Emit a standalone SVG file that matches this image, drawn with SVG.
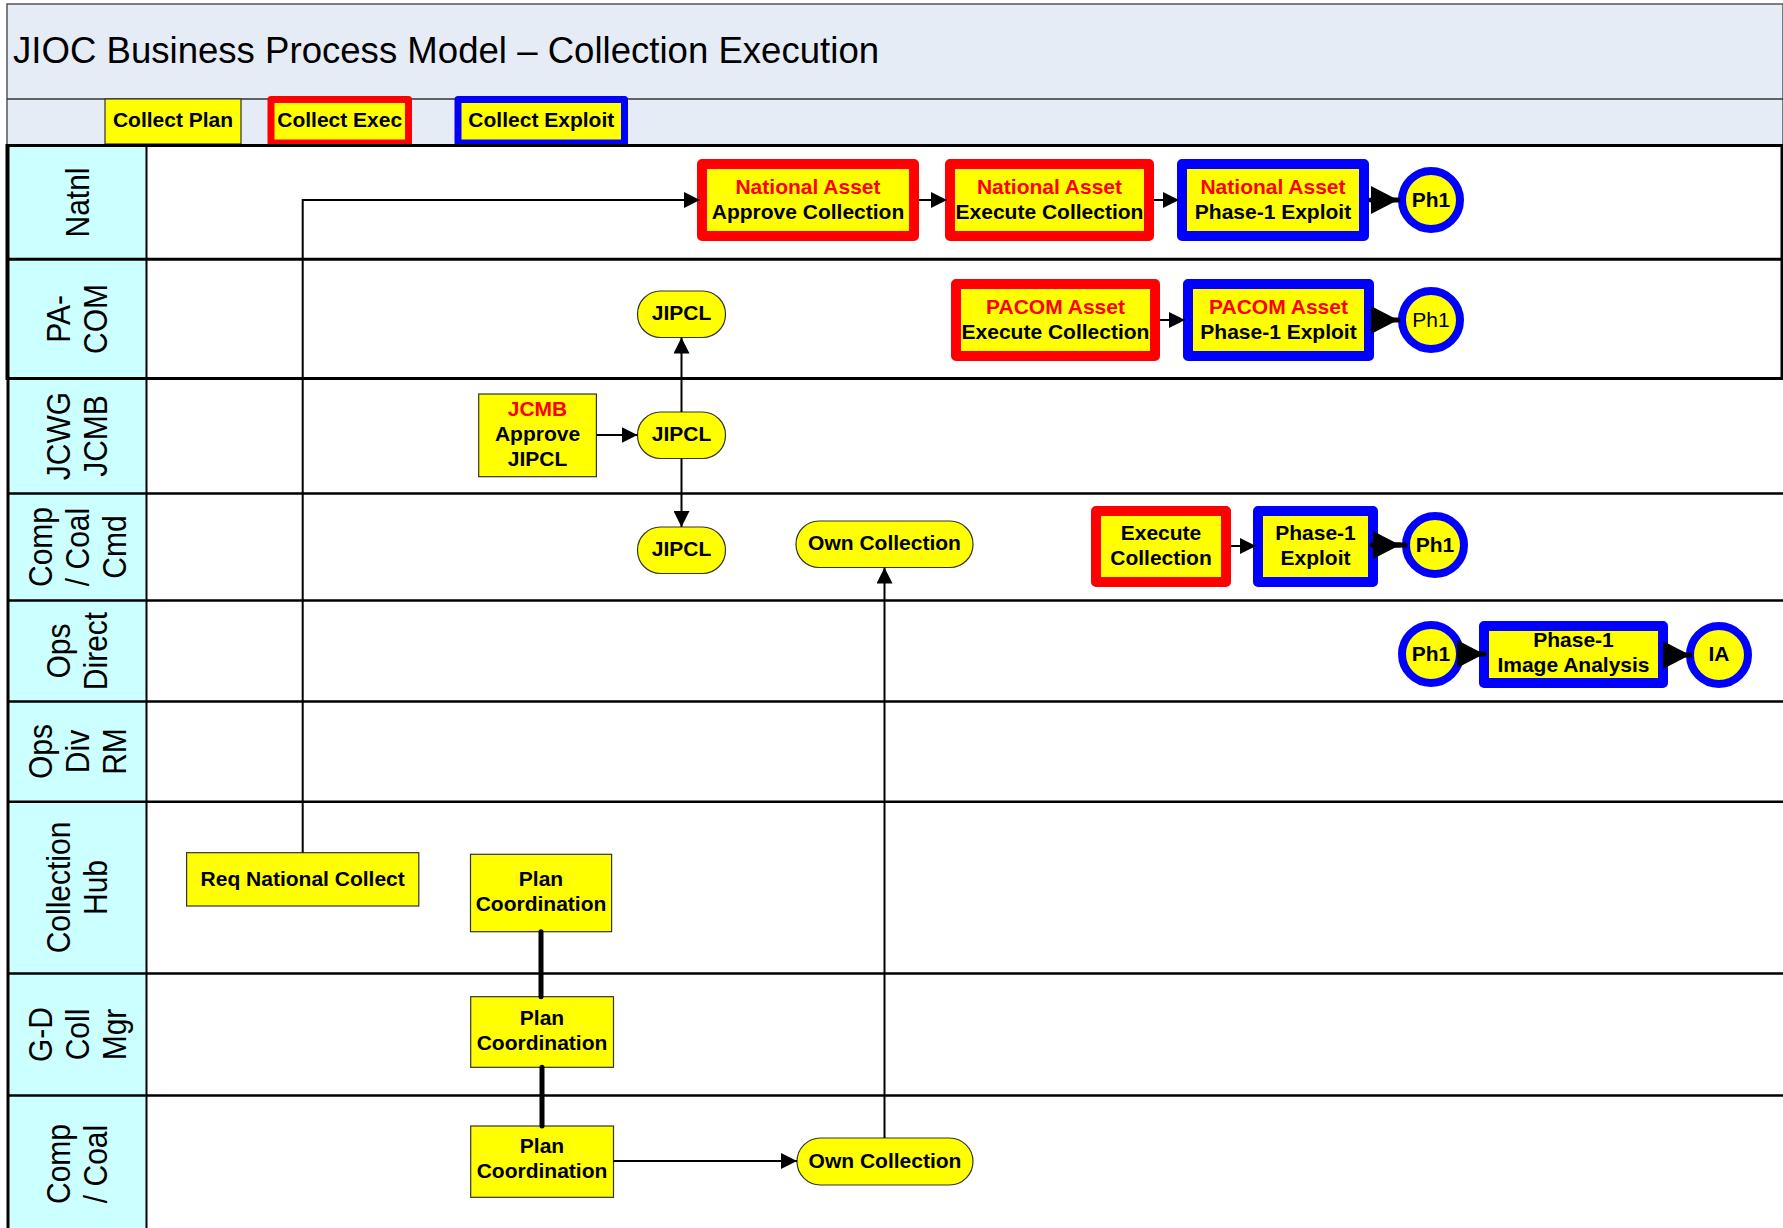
<svg xmlns="http://www.w3.org/2000/svg" width="1783" height="1228" viewBox="0 0 1783 1228">
  <style>
    .hdr { fill: #E6ECF6; }
    .lanecol { fill: #CCFFFF; }
    .title { font-family: "Liberation Sans", Arial, sans-serif; font-size: 36.6px; fill: #000; }
    .lane { font-family: "Liberation Sans", Arial, sans-serif; font-size: 30px; fill: #000; text-anchor: middle; }
    .t { font-family: "Liberation Sans", Arial, sans-serif; font-size: 21px; font-weight: bold; fill: #000; text-anchor: middle; }
    .t .r { fill: #FF0000; }
    .t.reg { font-weight: normal; }
    .box { fill: #FFFF00; stroke: #333; stroke-width: 1.2; }
    .exec { fill: #FFFF00; stroke: #FF0000; stroke-width: 10; stroke-linejoin: round; }
    .expl { fill: #FFFF00; stroke: #0000FF; stroke-width: 10; stroke-linejoin: round; }
    .ring { fill: #FFFF00; stroke: #0000FF; stroke-width: 8; }
    .lg-exec { fill: #FFFF00; stroke: #FF0000; stroke-width: 7; stroke-linejoin: round; }
    .lg-expl { fill: #FFFF00; stroke: #0000FF; stroke-width: 7; stroke-linejoin: round; }
    .heavy { stroke: #000; stroke-width: 3; }
    .light { stroke: #000; stroke-width: 2.5; }
    .flow { fill: none; stroke: #000; stroke-width: 2; }
    .bold { fill: none; stroke: #000; stroke-width: 5; stroke-linecap: round; }
  </style>
  <defs>
    <marker id="arr" markerUnits="userSpaceOnUse" markerWidth="16" markerHeight="16" refX="16" refY="8" orient="auto">
      <path d="M0,0 L16,8 L0,16 Z" fill="#000"/>
    </marker>
    <marker id="arrBig" markerUnits="userSpaceOnUse" markerWidth="27" markerHeight="28" refX="27" refY="14" orient="auto">
      <path d="M0,0 L27,14 L0,28 Z" fill="#000"/>
    </marker>
  </defs>

  <!-- page background -->
  <rect x="0" y="0" width="1783" height="1228" fill="#FFFFFF"/>

  <!-- title band and legend row -->
  <g id="header">
    <rect class="hdr" x="7" y="4" width="1776" height="141.5" stroke="#555" stroke-width="1.5"/>
    <line x1="7" y1="99" x2="1783" y2="99" stroke="#333" stroke-width="1.5"/>
    <text class="title" x="13" y="63">JIOC Business Process Model – Collection Execution</text>
  </g>

  <g id="legend">
    <g id="legend-plan">
      <rect class="box" x="105" y="99" width="136" height="45"/>
      <text class="t" x="173" y="127">Collect Plan</text>
    </g>
    <g id="legend-exec">
      <rect class="lg-exec" x="271" y="99.5" width="137.5" height="43.5"/>
      <text class="t" x="339.7" y="127">Collect Exec</text>
    </g>
    <g id="legend-exploit">
      <rect class="lg-expl" x="458" y="99.5" width="166.5" height="43.5"/>
      <text class="t" x="541.3" y="127">Collect Exploit</text>
    </g>
  </g>

  <!-- swimlanes -->
  <g id="lanes">
    <rect class="lanecol" x="7" y="145.5" width="139.5" height="1083"/>
    <rect x="7" y="145.5" width="1775" height="233" fill="none" stroke="#000" stroke-width="3"/>
    <line class="heavy" x1="7" y1="259.3" x2="1783" y2="259.3"/>
    <line class="light" x1="7" y1="493.5" x2="1783" y2="493.5"/>
    <line class="light" x1="7" y1="600.5" x2="1783" y2="600.5"/>
    <line class="light" x1="7" y1="701.6" x2="1783" y2="701.6"/>
    <line class="light" x1="7" y1="801.7" x2="1783" y2="801.7"/>
    <line class="light" x1="7" y1="973.5" x2="1783" y2="973.5"/>
    <line class="light" x1="7" y1="1095.5" x2="1783" y2="1095.5"/>
    <line x1="8" y1="145.5" x2="8" y2="1228" stroke="#000" stroke-width="3"/>
    <line x1="146.5" y1="145.5" x2="146.5" y2="1228" stroke="#000" stroke-width="2"/>

    <!-- lane names, rotated; glyphs drawn slightly tall across the column -->
    <text class="lane" transform="translate(89,202.5) rotate(-90) scale(1,1.1)">Natnl</text>
    <text class="lane" transform="translate(70,319) rotate(-90) scale(1,1.1)"><tspan x="0" y="0">PA-</tspan><tspan x="0" y="33.6">COM</tspan></text>
    <text class="lane" transform="translate(70,436) rotate(-90) scale(1,1.1)"><tspan x="0" y="0">JCWG</tspan><tspan x="0" y="33.6">JCMB</tspan></text>
    <text class="lane" transform="translate(52,547) rotate(-90) scale(1,1.1)"><tspan x="0" y="0">Comp</tspan><tspan x="0" y="33.6">/ Coal</tspan><tspan x="0" y="67.2">Cmd</tspan></text>
    <text class="lane" transform="translate(70,651) rotate(-90) scale(1,1.1)"><tspan x="0" y="0">Ops</tspan><tspan x="0" y="33.6">Direct</tspan></text>
    <text class="lane" transform="translate(52,751.5) rotate(-90) scale(1,1.1)"><tspan x="0" y="0">Ops</tspan><tspan x="0" y="33.6">Div</tspan><tspan x="0" y="67.2">RM</tspan></text>
    <text class="lane" transform="translate(70,887.5) rotate(-90) scale(1,1.1)"><tspan x="0" y="0">Collection</tspan><tspan x="0" y="33.6">Hub</tspan></text>
    <text class="lane" transform="translate(52,1034.5) rotate(-90) scale(1,1.1)"><tspan x="0" y="0">G-D</tspan><tspan x="0" y="33.6">Coll</tspan><tspan x="0" y="67.2">Mgr</tspan></text>
    <text class="lane" transform="translate(70,1164) rotate(-90) scale(1,1.1)"><tspan x="0" y="0">Comp</tspan><tspan x="0" y="33.6">/ Coal</tspan></text>
  </g>

  <!-- Natnl lane -->
  <g id="natl-approve">
    <rect class="exec" x="702" y="164" width="212" height="72"/>
    <text class="t" x="808" y="193.5"><tspan class="r">National Asset</tspan><tspan x="808" dy="25">Approve Collection</tspan></text>
  </g>
  <g id="natl-execute">
    <rect class="exec" x="950" y="164" width="199" height="72"/>
    <text class="t" x="1049.5" y="193.5"><tspan class="r">National Asset</tspan><tspan x="1049.5" dy="25">Execute Collection</tspan></text>
  </g>
  <g id="natl-exploit">
    <rect class="expl" x="1182" y="164" width="182" height="72"/>
    <text class="t" x="1273" y="193.5"><tspan class="r">National Asset</tspan><tspan x="1273" dy="25">Phase-1 Exploit</tspan></text>
  </g>
  <g id="natl-ph1">
    <circle class="ring" cx="1431" cy="200" r="29"/>
    <text class="t" x="1431" y="206.5">Ph1</text>
  </g>

  <!-- PA-COM lane -->
  <g id="pacom-jipcl">
    <rect class="box" x="637.5" y="291" width="88" height="46.5" rx="23"/>
    <text class="t" x="681.5" y="320">JIPCL</text>
  </g>
  <g id="pacom-execute">
    <rect class="exec" x="956" y="284" width="199" height="72"/>
    <text class="t" x="1055.5" y="313.5"><tspan class="r">PACOM Asset</tspan><tspan x="1055.5" dy="25">Execute Collection</tspan></text>
  </g>
  <g id="pacom-exploit">
    <rect class="expl" x="1188" y="284" width="181" height="72"/>
    <text class="t" x="1278.5" y="313.5"><tspan class="r">PACOM Asset</tspan><tspan x="1278.5" dy="25">Phase-1 Exploit</tspan></text>
  </g>
  <g id="pacom-ph1">
    <circle class="ring" cx="1431" cy="320" r="29"/>
    <text class="t reg" x="1431" y="326.5">Ph1</text>
  </g>

  <!-- JCWG / JCMB lane -->
  <g id="jcmb-approve">
    <rect class="box" x="478.7" y="394" width="117.7" height="82.7"/>
    <text class="t" x="537.5" y="416"><tspan class="r">JCMB</tspan><tspan x="537.5" dy="25">Approve</tspan><tspan x="537.5" dy="25">JIPCL</tspan></text>
  </g>
  <g id="jcwg-jipcl">
    <rect class="box" x="637.5" y="412" width="88" height="46.5" rx="23"/>
    <text class="t" x="681.5" y="441">JIPCL</text>
  </g>

  <!-- Comp / Coal Cmd lane -->
  <g id="cmd-jipcl">
    <rect class="box" x="637.5" y="527" width="88" height="46.5" rx="23"/>
    <text class="t" x="681.5" y="556">JIPCL</text>
  </g>
  <g id="cmd-own">
    <rect class="box" x="796" y="521" width="177" height="46.5" rx="23"/>
    <text class="t" x="884.5" y="550">Own Collection</text>
  </g>
  <g id="cmd-execute">
    <rect class="exec" x="1096" y="511" width="130" height="71"/>
    <text class="t" x="1161" y="540"><tspan>Execute</tspan><tspan x="1161" dy="25">Collection</tspan></text>
  </g>
  <g id="cmd-exploit">
    <rect class="expl" x="1258" y="511" width="115" height="71"/>
    <text class="t" x="1315.5" y="540"><tspan>Phase-1</tspan><tspan x="1315.5" dy="25">Exploit</tspan></text>
  </g>
  <g id="cmd-ph1">
    <circle class="ring" cx="1435" cy="545" r="29"/>
    <text class="t" x="1435" y="551.5">Ph1</text>
  </g>

  <!-- Ops Direct lane -->
  <g id="ops-ph1">
    <circle class="ring" cx="1431" cy="654" r="29"/>
    <text class="t" x="1431" y="660.5">Ph1</text>
  </g>
  <g id="ops-image-analysis">
    <rect class="expl" x="1484" y="626" width="179" height="57"/>
    <text class="t" x="1573.5" y="646.5"><tspan>Phase-1</tspan><tspan x="1573.5" dy="25">Image Analysis</tspan></text>
  </g>
  <g id="ops-ia">
    <circle class="ring" cx="1719" cy="655" r="29"/>
    <text class="t" x="1719" y="661">IA</text>
  </g>

  <!-- Collection Hub lane -->
  <g id="hub-req">
    <rect class="box" x="186.6" y="852.7" width="232.2" height="53.3"/>
    <text class="t" x="302.7" y="885.5">Req National Collect</text>
  </g>
  <g id="hub-plan">
    <rect class="box" x="470.5" y="854.3" width="141.1" height="77.4"/>
    <text class="t" x="541" y="886"><tspan>Plan</tspan><tspan x="541" dy="25">Coordination</tspan></text>
  </g>

  <!-- G-D Coll Mgr lane -->
  <g id="gd-plan">
    <rect class="box" x="470.7" y="996.7" width="142.8" height="70.6"/>
    <text class="t" x="542" y="1024.5"><tspan>Plan</tspan><tspan x="542" dy="25">Coordination</tspan></text>
  </g>

  <!-- Comp / Coal lane -->
  <g id="coal-plan">
    <rect class="box" x="470.7" y="1126" width="142.8" height="71.3"/>
    <text class="t" x="542" y="1153"><tspan>Plan</tspan><tspan x="542" dy="25">Coordination</tspan></text>
  </g>
  <g id="coal-own">
    <rect class="box" x="797" y="1138" width="176" height="47" rx="23.5"/>
    <text class="t" x="885" y="1168">Own Collection</text>
  </g>

  <!-- connectors -->
  <g id="connectors">
    <path class="flow" d="M302.7,852.7 V200 H700" marker-end="url(#arr)"/>
    <path class="flow" d="M919,200 H947" marker-end="url(#arr)"/>
    <path class="flow" d="M1154,200 H1179" marker-end="url(#arr)"/>
    <path class="bold" d="M1371,200 H1398" marker-end="url(#arrBig)"/>

    <path class="flow" d="M1160,320 H1185" marker-end="url(#arr)"/>
    <path class="bold" d="M1376,320 H1398" marker-end="url(#arrBig)"/>

    <path class="flow" d="M596.4,435 H637.5" marker-end="url(#arr)"/>
    <path class="flow" d="M681.5,412 V337.5" marker-end="url(#arr)"/>
    <path class="flow" d="M681.5,458.5 V527" marker-end="url(#arr)"/>

    <path class="flow" d="M1231,546 H1256" marker-end="url(#arr)"/>
    <path class="bold" d="M1372,545 H1405"/>
    <path class="bold" d="M1378,545 H1400" marker-end="url(#arrBig)"/>

    <path class="bold" d="M1462,654 H1484" marker-end="url(#arrBig)"/>
    <path class="bold" d="M1666,655 H1690" marker-end="url(#arrBig)"/>

    <path class="bold" d="M541,931.7 V996.7"/>
    <path class="bold" d="M542,1067.3 V1126"/>

    <path class="flow" d="M613.5,1161 H797" marker-end="url(#arr)"/>
    <path class="flow" d="M884.5,1138 V567.5" marker-end="url(#arr)"/>
  </g>
</svg>
